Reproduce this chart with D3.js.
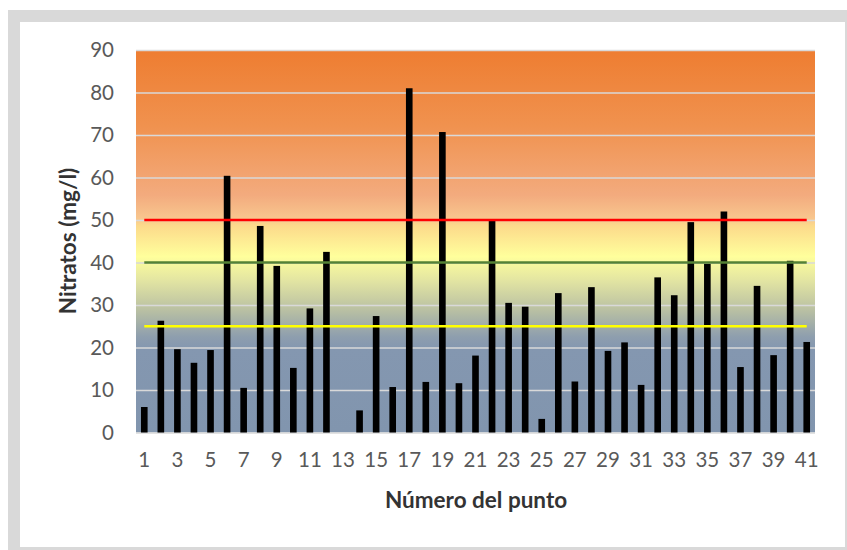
<!DOCTYPE html>
<html>
<head>
<meta charset="utf-8">
<script src="https://d3js.org/d3.v7.min.js"></script>
<style>
  body { margin: 0; background: #fff; }
  text { font-family: Lato, "Open Sans", sans-serif; }
</style>
</head>
<body>
<svg id="chart" width="847" height="550"></svg>
<script>
// point numbers and nitrate values (mg/l); point 13 has no value
const puntos = d3.range(1, 42);
const nitratos = [6.0, 26.3, 19.6, 16.4, 19.4, 60.4, 10.5, 48.6, 39.2, 15.2,
                  29.2, 42.5, 0, 5.2, 27.4, 10.7, 81.0, 11.9, 70.7, 11.6,
                  18.1, 49.8, 30.5, 29.6, 3.2, 32.8, 12.0, 34.2, 19.2, 21.2,
                  11.2, 36.5, 32.3, 49.5, 39.7, 52.0, 15.4, 34.5, 18.2, 40.4, 21.3];
const limites = [50, 40, 25];
const yTicks = [0, 10, 20, 30, 40, 50, 60, 70, 80, 90];
const xTicks = d3.range(1, 42, 2);

const svg = d3.select('#chart');

// outer frame
svg.append('rect')
  .attr('x', 8).attr('y', 10).attr('width', 839).attr('height', 540)
  .attr('fill', '#d9d9d9');
svg.append('rect')
  .attr('x', 20).attr('y', 22).attr('width', 825).attr('height', 525)
  .attr('fill', '#fff');

const pLeft = 136, pRight = 815, pTop = 50, pBottom = 432.5;

const x = d3.scaleBand().domain(puntos).range([pLeft, pRight]).paddingInner(0.6).paddingOuter(0.3);
const y = d3.scaleLinear().domain([0, 90]).range([pBottom, pTop]);

// background gradient
const grad = svg.append('defs').append('linearGradient')
  .attr('id', 'fondo').attr('x1', 0).attr('y1', 0).attr('x2', 0).attr('y2', 1);
[[0, '#ee7d31'], [0.2, '#f0924f'], [0.38, '#f3ab7e'], [0.44, '#f8c68e'],
 [0.46, '#fcda8b'], [0.54, '#ffff9c'], [0.6, '#e4e6a2'], [0.68, '#b9c0a3'],
 [0.75, '#8e9eae'], [0.78, '#8497b0'], [1, '#8195ae']]
  .forEach(s => grad.append('stop').attr('offset', s[0]).attr('stop-color', s[1]));

svg.append('rect')
  .attr('x', pLeft).attr('y', pTop).attr('width', pRight - pLeft).attr('height', pBottom - pTop)
  .attr('fill', 'url(#fondo)');

// gridlines
svg.append('g')
  .attr('transform', `translate(${pLeft},0)`)
  .call(d3.axisLeft(y).tickValues(yTicks).tickSize(-(pRight - pLeft)).tickFormat(''))
  .call(g => g.select('.domain').remove())
  .call(g => g.selectAll('line').attr('stroke', '#d9d9d9').attr('stroke-width', 1.5));

// y tick labels
svg.append('g')
  .attr('transform', `translate(${pLeft},0)`)
  .call(d3.axisLeft(y).tickValues(yTicks).tickSize(0).tickPadding(22))
  .call(g => g.select('.domain').remove())
  .call(g => g.selectAll('text').attr('fill', '#595959').style('font-size', '20.5px')
    .style('font-family', 'Lato, sans-serif'));

// bars
svg.append('g').selectAll('rect')
  .data(puntos)
  .enter().append('rect')
  .attr('x', d => x(d))
  .attr('y', (d, i) => y(nitratos[i]))
  .attr('width', x.bandwidth())
  .attr('height', (d, i) => y(0) - y(nitratos[i]))
  .attr('fill', '#000');

// limit lines
const colores = ['#ff0000', '#548235', '#ffff00'];
const line = d3.line()
  .x(d => x(d[0]) + x.bandwidth() / 2)
  .y(d => y(d[1]));
limites.forEach((v, k) => {
  svg.append('path')
    .datum(puntos.map(p => [p, v]))
    .attr('d', line)
    .attr('fill', 'none')
    .attr('stroke', colores[k])
    .attr('stroke-width', 2.5);
});

// x tick labels
svg.append('g')
  .attr('transform', `translate(0,${pBottom})`)
  .call(d3.axisBottom(x).tickValues(xTicks).tickSize(0).tickPadding(20))
  .call(g => g.select('.domain').remove())
  .call(g => g.selectAll('text').attr('fill', '#595959').style('font-size', '20.5px')
    .style('font-family', 'Lato, sans-serif'));

// axis titles
svg.append('text')
  .attr('x', 476).attr('y', 508)
  .attr('text-anchor', 'middle')
  .attr('fill', '#333')
  .style('font-size', '22.5px').style('font-weight', 'bold')
  .text('Número del punto');

svg.append('text')
  .attr('transform', 'translate(76,241) rotate(-90)')
  .attr('text-anchor', 'middle')
  .attr('fill', '#333')
  .style('font-size', '22.5px').style('font-weight', 'bold')
  .text('Nitratos (mg/l)');
</script>
</body>
</html>
